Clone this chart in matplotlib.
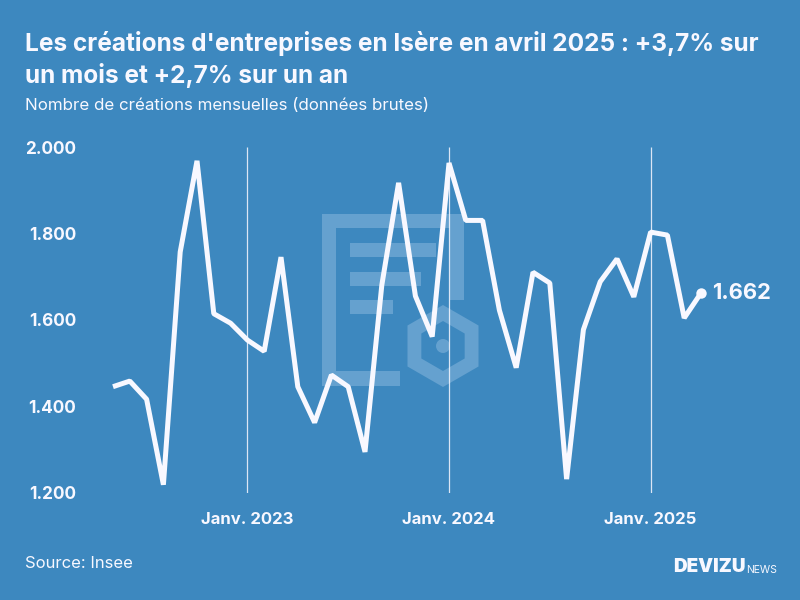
import numpy as np
import matplotlib
matplotlib.use("Agg")
import matplotlib.pyplot as plt
from matplotlib.patches import Rectangle, Circle, PathPatch
from matplotlib.path import Path
from matplotlib.transforms import Affine2D

BG = "#3d88bf"
FG = "#f8f8ff"
WM = "#65a1cf"
W, H = 800, 600

months = ["2022-05","2022-06","2022-07","2022-08","2022-09","2022-10","2022-11","2022-12",
          "2023-01","2023-02","2023-03","2023-04","2023-05","2023-06","2023-07","2023-08","2023-09","2023-10","2023-11","2023-12",
          "2024-01","2024-02","2024-03","2024-04","2024-05","2024-06","2024-07","2024-08","2024-09","2024-10","2024-11","2024-12",
          "2025-01","2025-02","2025-03","2025-04"]
creations = [1445,1458,1416,1218,1757,1968,1614,1592,
             1553,1527,1745,1445,1362,1472,1445,1294,1680,1917,1655,1561,
             1963,1830,1830,1622,1489,1710,1685,1231,1577,1688,1741,1653,
             1803,1796,1604,1662]
y_ticks = [1200,1400,1600,1800,2000]
y_labels = ["1.200","1.400","1.600","1.800","2.000"]
jan_months = ["2023-01","2024-01","2025-01"]
jan_labels = ["Janv. 2023","Janv. 2024","Janv. 2025"]

plt.rcParams["font.family"] = ["Inter", "DejaVu Sans"]
fig = plt.figure(figsize=(W/100, H/100), dpi=100, facecolor=BG)

# pixel (origin top-left) transform for the decorative watermark
px = Affine2D().scale(1, -1).translate(0, H) + Affine2D().scale(1/W, 1/H) + fig.transFigure

def rect(x0, y0, x1, y1):
    fig.add_artist(Rectangle((x0, y0), x1-x0, y1-y0, transform=px, fc=WM, ec="none", zorder=0))

rect(322, 214, 336, 386)
rect(336, 371, 400, 386)
rect(336, 214, 464, 228)
rect(450, 228, 464, 300)
rect(350, 243, 436, 257)
rect(350, 272, 421, 286)
rect(350, 300, 393, 314)

def hexa(cx, cy, r, rev=False):
    a = np.deg2rad(np.arange(-90, 270, 60))
    if rev:
        a = a[::-1]
    pts = np.c_[cx + r*np.cos(a), cy + r*np.sin(a)]
    return np.vstack([pts, pts[0]])

outer, inner = hexa(443, 346, 41), hexa(443, 346, 25, True)
codes = [Path.MOVETO] + [Path.LINETO]*5 + [Path.CLOSEPOLY]
fig.add_artist(PathPatch(Path(np.vstack([outer, inner]), codes*2), transform=px, fc=WM, ec="none", zorder=0))
fig.add_artist(Circle((443, 346), 7, transform=px, fc=WM, ec="none", zorder=0))

ax = fig.add_axes([113/W, 1-492.5/H, (701-113)/W, (492.5-147)/H])
ax.patch.set_alpha(0)
x = np.arange(len(months))
ax.set_xlim(0, len(months)-1)
ax.set_ylim(1200, 2000)
for s in ax.spines.values():
    s.set_visible(False)

jan_x = [months.index(m) for m in jan_months]
ax.vlines(jan_x, 1200, 2000, color=FG, lw=0.9, alpha=0.85, zorder=1)
ax.plot(x, creations, color=FG, lw=3.6, solid_joinstyle="bevel", solid_capstyle="butt", clip_on=False, zorder=3)
ax.plot(x[-1], creations[-1], "o", color=FG, ms=7.5, mew=0, clip_on=False, zorder=4)
ax.annotate(f"{creations[-1]:,}".replace(",", "."), (x[-1], creations[-1]), xytext=(11, 0),
            textcoords="offset pixels", color=FG, fontsize=15.8, fontweight="bold", va="center", ha="left")

ax.set_yticks(y_ticks, y_labels)
ax.set_xticks(jan_x, jan_labels)
ax.tick_params(axis="y", length=0, pad=26.5, labelcolor=FG, labelsize=12.4)
ax.tick_params(axis="x", length=0, pad=14, labelcolor=FG, labelsize=12)
for t in ax.get_yticklabels() + ax.get_xticklabels():
    t.set_fontweight("bold")

fig.text(25/W, 1-43/H, "Les créations d'entreprises en Isère en avril 2025 : +3,7% sur",
         color=FG, fontsize=17.6, fontweight="bold", va="center", ha="left")
fig.text(25/W, 1-76/H, "un mois et +2,7% sur un an",
         color=FG, fontsize=17.6, fontweight="bold", va="center", ha="left")
fig.text(25/W, 1-105/H, "Nombre de créations mensuelles (données brutes)",
         color=FG, fontsize=12.2, va="center", ha="left")
fig.text(25/W, 1-563/H, "Source: Insee", color=FG, fontsize=12, va="center", ha="left")
fig.text(746/W, 1-567/H, "DEVIZU", color=FG, fontsize=13.6, fontweight="black", va="center", ha="right")
fig.text(746/W, 1-570/H, "NEWS", color=FG, fontsize=7.5, va="center", ha="left")

fig.savefig("out.png", dpi=100, facecolor=BG)
